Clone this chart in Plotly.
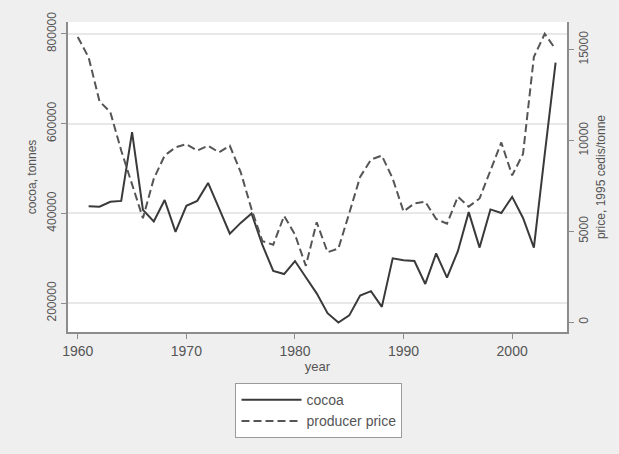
import plotly.graph_objects as go

cocoa_years = list(range(1961, 2005))
cocoa_tonnes = [416000, 415000, 426000, 428000, 581000, 408000, 382000, 430000, 359000, 417000,
                428000, 468000, 412000, 355000, 379000, 400000, 330000, 272000, 265000, 294000,
                258000, 222000, 178000, 157000, 173000, 217000, 227000, 192000, 300000, 296000,
                294000, 243000, 311000, 257000, 316000, 403000, 324000, 409000, 401000, 437000,
                390000, 324000, 532000, 736000]

price_years = list(range(1960, 2005))
producer_price = [15700, 14570, 12160, 11560, 9450, 7600, 5720, 7900, 9170, 9620,
                  9800, 9440, 9710, 9350, 9710, 8260, 6220, 4460, 4260, 5850,
                  4820, 3100, 5500, 3850, 4050, 6000, 7990, 8950, 9170, 7900,
                  6090, 6540, 6630, 5680, 5420, 6900, 6360, 6810, 8350, 9890,
                  8080, 9260, 14600, 15870, 15020]

x_ticks = [1960, 1970, 1980, 1990, 2000]
left_ticks = [200000, 400000, 600000, 800000]
left_labels = ["200000", "400000", "600000", "800000"]
right_ticks = [0, 5000, 10000, 15000]
right_labels = ["0", "5000", "10000", "15000"]

FONT = "Liberation Sans, Arial, sans-serif"
TXT = "#555555"
AX = "#8c8c8c"

fig = go.Figure()
fig.add_trace(go.Scatter(x=cocoa_years, y=cocoa_tonnes, mode="lines", name="cocoa",
                         line=dict(color="#3a3a3a", width=2), yaxis="y"))
fig.add_trace(go.Scatter(x=price_years, y=producer_price, mode="lines", name="producer price",
                         line=dict(color="#555555", width=2, dash="8px,4px"), yaxis="y2"))

fig.update_layout(
    width=619, height=454,
    margin=dict(l=68, r=52, t=18, b=122),
    paper_bgcolor="#efefef", plot_bgcolor="white",
    font=dict(family=FONT, size=13, color=TXT),
    showlegend=True,
    legend=dict(x=0.503, xanchor="center", y=-0.165, yanchor="top",
                bgcolor="white", bordercolor="#9a9a9a", borderwidth=1,
                font=dict(size=14, color=TXT), itemwidth=60, tracegroupgap=0),
    xaxis=dict(range=[1959.1, 2005.05], tickvals=x_ticks, showgrid=False, zeroline=False,
               showline=True, linecolor=AX, linewidth=1.5, ticks="outside", ticklen=5,
               tickcolor=AX, tickfont=dict(size=14, color=TXT),
               title=dict(text="year", font=dict(size=13, color=TXT), standoff=4)),
    yaxis=dict(range=[136000, 826400], tickvals=left_ticks, ticktext=left_labels, tickangle=-90,
               showgrid=True, gridcolor="#e8e8e8", gridwidth=1.5, zeroline=False,
               showline=True, linecolor=AX, linewidth=1.5, ticks="outside", ticklen=5,
               tickcolor=AX, tickfont=dict(size=12, color=TXT),
               title=dict(text="cocoa, tonnes", font=dict(size=12, color=TXT), standoff=6)),
    yaxis2=dict(range=[-543, 16522], tickvals=right_ticks, ticktext=right_labels, tickangle=-90,
                overlaying="y", side="right", showgrid=False, zeroline=False,
                showline=True, linecolor=AX, linewidth=1.5, ticks="outside", ticklen=5,
                tickcolor=AX, tickfont=dict(size=12, color=TXT),
                title=dict(text="price, 1995 cedis/tonne", font=dict(size=12, color=TXT), standoff=6)),
)

fig.write_html("out.html", config={"displayModeBar": False},
               post_script="document.body.style.margin='0';")
